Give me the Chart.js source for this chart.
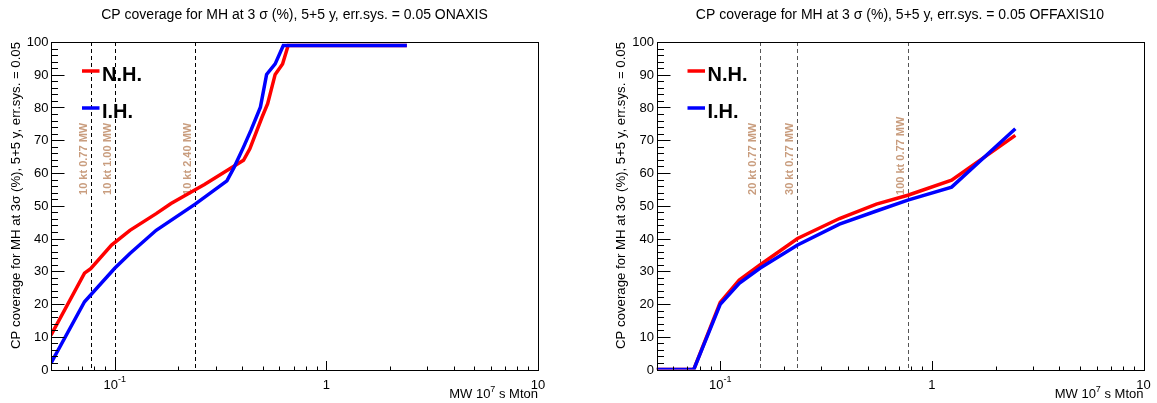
<!DOCTYPE html>
<html><head><meta charset="utf-8">
<script src="https://cdn.jsdelivr.net/npm/chart.js@4.4.1/dist/chart.umd.min.js"></script>
<style>
body{margin:0;background:#fff;width:1157px;height:403px;overflow:hidden;position:relative}
.p{position:absolute;top:0;height:403px}
canvas{display:block}
</style>
</head><body>
<div class="p" style="left:0;width:578px"><canvas id="c1" width="578" height="403"></canvas></div>
<div class="p" style="left:578px;width:579px"><canvas id="c2" width="579" height="403"></canvas></div>
<script>
// ---- data ----
const onNHx = [0.05, 0.072, 0.077, 0.0966, 0.118, 0.157, 0.1845, 0.24, 0.2655, 0.406, 0.435, 0.497, 0.528, 0.573, 0.621, 0.66, 2.4];
const onNHy = [10.5, 29.4, 30.8, 38.0, 42.5, 47.6, 50.7, 54.9, 56.5, 63.9, 67.4, 77.1, 81.2, 90.1, 93.3, 98.9, 98.9];
const onIHx = [0.05, 0.072, 0.1, 0.118, 0.157, 0.24, 0.339, 0.367, 0.406, 0.44, 0.488, 0.522, 0.573, 0.626, 2.4];
const onIHy = [1.9, 20.7, 30.9, 35.4, 42.5, 50.5, 57.6, 61.8, 67.9, 73.0, 80.1, 90.1, 93.3, 98.9, 98.9];

const offNHx = [0.05, 0.075, 0.1, 0.123, 0.154, 0.232, 0.366, 0.547, 0.77, 1.24, 2.48];
const offNHy = [0, 0, 20.5, 27.3, 31.9, 40.0, 46.1, 50.5, 53.2, 57.8, 71.5];
const offIHx = [0.05, 0.075, 0.1, 0.123, 0.154, 0.232, 0.366, 0.547, 0.77, 1.24, 2.48];
const offIHy = [0, 0, 19.9, 26.3, 30.9, 38.0, 44.4, 48.4, 51.7, 55.7, 73.5];

const onMarkers = [0.077, 0.1, 0.24];
const onMarkerLabels = ['10 kt 0.77 MW', '10 kt 1.00 MW', '10 kt 2.40 MW'];
const offMarkers = [0.154, 0.231, 0.77];
const offMarkerLabels = ['20 kt 0.77 MW', '30 kt 0.77 MW', '100 kt 0.77 MW'];

const seriesNames = ['N.H.', 'I.H.'];
const yTickValues = [0, 10, 20, 30, 40, 50, 60, 70, 80, 90, 100];
const xTickValues = [0.1, 1, 10];
const xTickBase = ['10', '1', '10'];
const xTickExp = ['-1', '', ''];
const titleOn = 'CP coverage for MH at 3 \u03c3 (%), 5+5 y, err.sys. = 0.05 ONAXIS';
const titleOff = 'CP coverage for MH at 3 \u03c3 (%), 5+5 y, err.sys. = 0.05 OFFAXIS10';
const yTitle = 'CP coverage for MH at 3\u03c3 (%), 5+5 y, err.sys. = 0.05';
const xTitleMain = 'MW 10';
const xTitleExp = '7';
const xTitleTail = ' s Mton';

const FONT = '"Liberation Sans", Arial, Helvetica, sans-serif';
Chart.defaults.font.family = FONT;

const rootStyle = {
  id: 'rootStyle',
  beforeDatasetsDraw(chart, args, o) {
    const {ctx, chartArea: a, scales: {x, y}} = chart;
    ctx.save();
    o.markers.forEach((m, i) => {
      const px = Math.round(x.getPixelForValue(m)) + 0.5;
      ctx.strokeStyle = o.dashColor; ctx.lineWidth = 1; ctx.setLineDash([4, 3]);
      ctx.beginPath(); ctx.moveTo(px, a.top); ctx.lineTo(px, a.bottom); ctx.stroke();
      ctx.setLineDash([]);
      ctx.save();
      ctx.translate(px - 5, y.getPixelForValue(53.3));
      ctx.rotate(-Math.PI / 2);
      ctx.fillStyle = '#c99d7e';
      ctx.font = 'bold 11px ' + FONT;
      ctx.textAlign = 'left'; ctx.textBaseline = 'alphabetic';
      ctx.fillText(o.markerLabels[i], 0, 0);
      ctx.restore();
    });
    ctx.restore();
  },
  afterDraw(chart, args, o) {
    const {ctx, chartArea: a, scales: {x, y}} = chart;
    ctx.save();
    ctx.setLineDash([]);
    // frame
    ctx.strokeStyle = '#000'; ctx.lineWidth = 1;
    const L = Math.round(a.left) + 0.5, R = Math.round(a.right) + 0.5;
    const T = Math.round(a.top) + 0.5, B = Math.round(a.bottom) + 0.5;
    ctx.strokeRect(L, T, R - L, B - T);
    // y ticks
    ctx.beginPath();
    for (let v = 0; v <= 100; v += 2) {
      const py = Math.round(y.getPixelForValue(v)) + 0.5;
      const len = (v % 10 === 0) ? 13 : 6.5;
      ctx.moveTo(L, py); ctx.lineTo(L + len, py);
    }
    // x ticks
    [0.01, 0.1, 1].forEach(d => {
      for (let k = 1; k <= 9; k++) {
        const v = k * d;
        if (v < 0.0499 || v > 10.001) continue;
        const px = Math.round(x.getPixelForValue(v)) + 0.5;
        const len = (k === 1) ? 9.5 : 4;
        ctx.moveTo(px, B); ctx.lineTo(px, B - len);
      }
    });
    { const px = Math.round(x.getPixelForValue(10)) + 0.5; ctx.moveTo(px, B); ctx.lineTo(px, B - 9.5); }
    ctx.stroke();
    // y labels
    ctx.fillStyle = '#000';
    ctx.font = '13px ' + FONT;
    ctx.textAlign = 'right'; ctx.textBaseline = 'middle';
    yTickValues.forEach(v => ctx.fillText(String(v), a.left - 2.5, y.getPixelForValue(v) + 0.5));
    // x labels
    ctx.textBaseline = 'alphabetic'; ctx.textAlign = 'left';
    xTickValues.forEach((v, i) => {
      ctx.font = '13px ' + FONT;
      const wb = ctx.measureText(xTickBase[i]).width;
      ctx.font = '9px ' + FONT;
      const we = xTickExp[i] ? ctx.measureText(xTickExp[i]).width : 0;
      const px = x.getPixelForValue(v);
      const sx = px - (wb + we) / 2;
      ctx.font = '13px ' + FONT;
      ctx.fillText(xTickBase[i], sx, 388.5);
      if (xTickExp[i]) { ctx.font = '9px ' + FONT; ctx.fillText(xTickExp[i], sx + wb, 382); }
    });
    // x title (right aligned)
    ctx.font = '13px ' + FONT;
    const w1 = ctx.measureText(xTitleMain).width;
    const w3 = ctx.measureText(xTitleTail).width;
    ctx.font = '9px ' + FONT;
    const w2 = ctx.measureText(xTitleExp).width;
    let tx = a.right - (w1 + w2 + w3);
    ctx.font = '13px ' + FONT;
    ctx.fillText(xTitleMain, tx, 398);
    ctx.font = '9px ' + FONT;
    ctx.fillText(xTitleExp, tx + w1, 392);
    ctx.font = '13px ' + FONT;
    ctx.fillText(xTitleTail, tx + w1 + w2, 398);
    // y title
    ctx.save();
    ctx.translate(a.left - 35, a.top);
    ctx.rotate(-Math.PI / 2);
    ctx.textAlign = 'right'; ctx.textBaseline = 'middle';
    ctx.font = '13.2px ' + FONT;
    ctx.fillText(yTitle, 0, 0);
    ctx.restore();
    // title
    ctx.textAlign = 'center'; ctx.textBaseline = 'middle';
    ctx.font = '14px ' + FONT;
    ctx.fillText(o.title, (a.left + a.right) / 2, 15);
    // legend
    const ly = [71, 108];
    chart.data.datasets.forEach((ds, i) => {
      ctx.strokeStyle = ds.borderColor; ctx.lineWidth = 3.5;
      ctx.beginPath(); ctx.moveTo(a.left + 31, ly[i]); ctx.lineTo(a.left + 48.5, ly[i]); ctx.stroke();
      ctx.fillStyle = '#000';
      ctx.font = 'bold 20px ' + FONT;
      ctx.textAlign = 'left'; ctx.textBaseline = 'alphabetic';
      ctx.fillText(ds.label, a.left + 51, ly[i] + 10);
    });
    ctx.restore();
  }
};

function pts(xs, ys) { return xs.map((v, i) => ({x: v, y: ys[i]})); }

function makeChart(id, nhx, nhy, ihx, ihy, pad, title, markers, markerLabels, dashColor) {
  return new Chart(document.getElementById(id), {
    type: 'line',
    data: {
      datasets: [
        {label: seriesNames[0], data: pts(nhx, nhy), borderColor: '#ff0000', backgroundColor: '#ff0000', borderWidth: 3.5, pointRadius: 0, tension: 0, fill: false, order: 1},
        {label: seriesNames[1], data: pts(ihx, ihy), borderColor: '#0000ff', backgroundColor: '#0000ff', borderWidth: 3.5, pointRadius: 0, tension: 0, fill: false, order: 0}
      ]
    },
    options: {
      responsive: false, animation: false, devicePixelRatio: 1,
      layout: {padding: pad},
      scales: {
        x: {type: 'logarithmic', min: 0.05, max: 10, display: false},
        y: {type: 'linear', min: 0, max: 100, display: false}
      },
      plugins: {
        legend: {display: false}, tooltip: {enabled: false},
        rootStyle: {title, markers, markerLabels, dashColor}
      }
    },
    plugins: [rootStyle]
  });
}

makeChart('c1', onNHx, onNHy, onIHx, onIHy, {left: 51, right: 40, top: 42, bottom: 33.5}, titleOn, onMarkers, onMarkerLabels, '#000');
makeChart('c2', offNHx, offNHy, offIHx, offIHy, {left: 78.5, right: 13.5, top: 42, bottom: 33.5}, titleOff, offMarkers, offMarkerLabels, '#555');
</script>
</body></html>
